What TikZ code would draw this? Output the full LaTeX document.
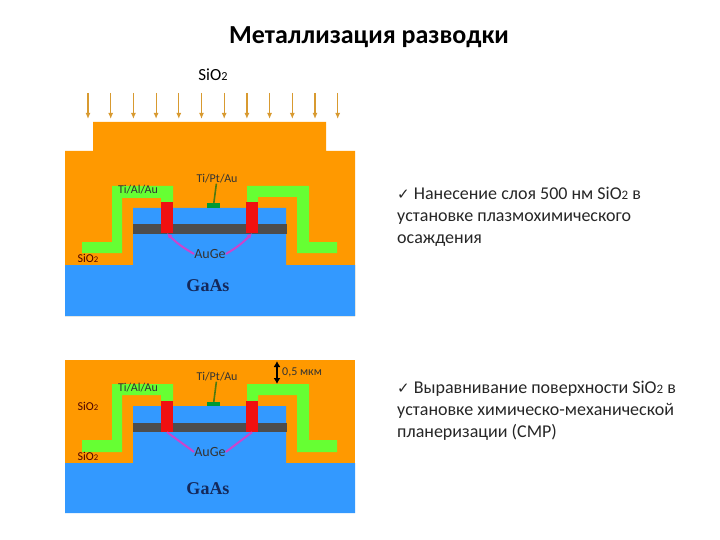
\documentclass[tikz,border=0pt]{standalone}
\usepackage{fontspec}
\setmainfont{Carlito}
\newfontfamily\serifgaas{Liberation Serif}
\newfontfamily\checkfont{DejaVu Sans}
\usetikzlibrary{arrows.meta,positioning,calc}
\definecolor{OxideOrange}{HTML}{FF9900}
\definecolor{SubBlue}{HTML}{3399FF}
\definecolor{LayerGray}{HTML}{4D4D4D}
\definecolor{ContactRed}{HTML}{F01010}
\definecolor{MetalGreen}{HTML}{66FF33}
\definecolor{GateGreen}{HTML}{009933}
\definecolor{LeadOlive}{HTML}{4D7A10}
\definecolor{LeadPink}{HTML}{CC44CC}
\definecolor{RainArrow}{HTML}{D89A30}
\definecolor{GaasNavy}{HTML}{14285A}
\newcommand{\oxide}{SiO{\fontsize{0.72em}{1em}\selectfont 2}}
\tikzset{
  contact/.style={fill=ContactRed, inner sep=0pt, minimum width=12pt},
  gate/.style={fill=GateGreen, inner sep=0pt, minimum width=13pt},
  tag/.style={font=\fontsize{12}{14}\selectfont, inner sep=0pt, text=black!80},
  sidetext/.style={font=\fontsize{18}{22}\selectfont, align=left, anchor=north west, inner sep=0pt, text=black!85},
  gaas/.style={font=\serifgaas\bfseries\fontsize{18}{20}\selectfont, text=GaasNavy, inner sep=0pt},
  rain/.style={RainArrow, line width=1.2pt, -{Latex[length=6pt,width=5pt]}},
  pinklead/.style={LeadPink, line width=2pt},
  olivelead/.style={LeadOlive, line width=1.6pt}
}
\begin{document}
\begin{tikzpicture}[x=1pt, y=-1pt]
  \useasboundingbox (0,0) rectangle (720,540);
  \node[font=\bfseries\fontsize{26}{28}\selectfont, inner sep=0pt] (title) at (369,37) {Металлизация разводки};
  \node[font=\fontsize{17}{19}\selectfont, inner sep=0pt] (oxidetop) at (213,75) {\oxide};

  % arrows of the deposition
  \foreach \i in {0,...,11} {
    \coordinate (rainA\i) at ({88+22.7*\i},93);
    \coordinate (rainB\i) at ({88+22.7*\i},119);
    \draw[rain] (rainA\i) -- (rainB\i);
  }

  % upper structure
  \fill[OxideOrange] (65,316) -- (65,151) -- (93,151) -- (93,122) -- (326,122) -- (326,151) -- (355,151) -- (355,316) -- cycle;
  \fill[SubBlue] (65,316) -- (65,265) -- (133,265) -- (133,208) -- (286,208) -- (286,265) -- (355,265) -- (355,316) -- cycle;
  \fill[LayerGray] (133,224) rectangle (287,234);
  \fill[MetalGreen] (82,242) -- (112,242) -- (112,186) -- (173,186) -- (173,202) -- (161,202) -- (161,198) -- (122,198) -- (122,253) -- (82,253) -- cycle;
  \fill[MetalGreen] (247,202) -- (247,186) -- (309,186) -- (309,242) -- (337,242) -- (337,253) -- (297,253) -- (297,197) -- (258,197) -- (258,202) -- cycle;
  \node[contact, minimum height=31pt] (redA) at (167,217.5) {};
  \node[contact, minimum height=31pt] (redB) at (252,217.5) {};
  \node[gate, minimum height=5pt] (gateA) at (213.5,205.5) {};
  \node[tag] (tialA) at (138,190) {Ti/Al/Au};
  \node[tag] (tiptA) at (217,179) {Ti/Pt/Au};
  \node[tag, font=\fontsize{14}{16}\selectfont] (augeA) at (210,254) {AuGe};
  \node[tag, text=black!70!red] (oxideA) at (88,258) {\oxide};
  \node[gaas] (gaasA) at (208,286) {GaAs};
  \draw[olivelead] (tiptA) -- (gateA);
  \draw[pinklead, -{Latex[length=5pt,width=5pt]}] (augeA.west) to[bend left=8] (redA.south);
  \draw[pinklead, -{Latex[length=5pt,width=5pt]}] (augeA.east) to[bend right=8] (redB.south);

  % lower structure
  \fill[OxideOrange] (65,360) rectangle (355,513);
  \fill[SubBlue] (65,513) -- (65,463) -- (133,463) -- (133,406) -- (286,406) -- (286,463) -- (355,463) -- (355,513) -- cycle;
  \fill[LayerGray] (133,423) rectangle (287,432);
  \fill[MetalGreen] (82,440) -- (112,440) -- (112,384) -- (173,384) -- (173,401) -- (161,401) -- (161,395) -- (122,395) -- (122,452) -- (82,452) -- cycle;
  \fill[MetalGreen] (247,401) -- (247,384) -- (309,384) -- (309,440) -- (337,440) -- (337,452) -- (297,452) -- (297,395) -- (258,395) -- (258,401) -- cycle;
  \node[contact, minimum height=31pt] (redC) at (167,416.5) {};
  \node[contact, minimum height=31pt] (redD) at (252,416.5) {};
  \node[gate, minimum height=4pt] (gateB) at (213.5,404) {};
  \node[tag] (tialB) at (138,388) {Ti/Al/Au};
  \node[tag] (tiptB) at (217,377) {Ti/Pt/Au};
  \node[tag, font=\fontsize{14}{16}\selectfont] (augeB) at (210,452) {AuGe};
  \node[tag, text=black!70!red] (oxideB) at (88,406) {\oxide};
  \node[tag, text=black!70!red] (oxideC) at (88,456) {\oxide};
  \node[gaas] (gaasB) at (208,489) {GaAs};
  \draw[olivelead] (tiptB) -- (gateB);
  \draw[pinklead] (augeB.west) -- (redC.south);
  \draw[pinklead] (augeB.east) -- (redD.south);
  \coordinate (gapA) at (277,361);
  \coordinate (gapB) at (277,384);
  \draw[line width=1.6pt, {Latex[length=6pt,width=7pt]}-{Latex[length=6pt,width=7pt]}] (gapA) -- (gapB);
  \node[tag, anchor=west] (gaplabel) at (282,372) {0,5 мкм};

  % text on the right
  \node[sidetext] (noteA) at (397,187) {{\checkfont\fontsize{15}{17}\selectfont ✓} Нанесение слоя 500 нм \oxide{} в\\установке плазмохимического\\осаждения};
  \node[sidetext] (noteB) at (397,381) {{\checkfont\fontsize{15}{17}\selectfont ✓} Выравнивание поверхности \oxide{} в\\установке химическо-механической\\планеризации (CMP)};
\end{tikzpicture}
\end{document}
